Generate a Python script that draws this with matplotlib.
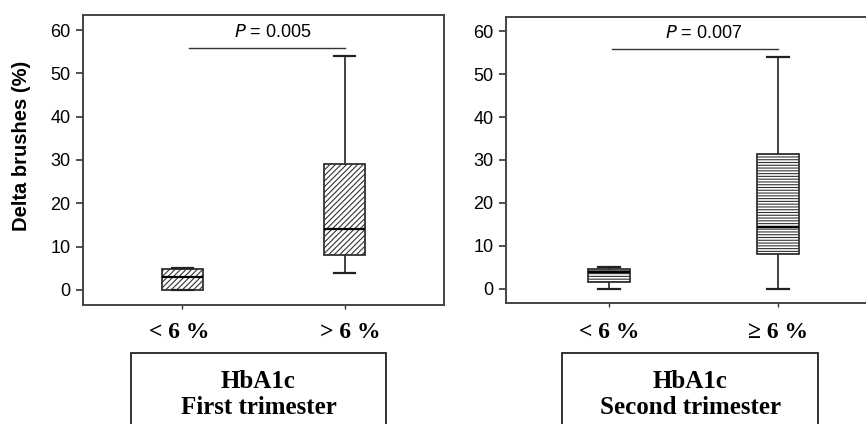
import matplotlib
matplotlib.use("Agg")
import matplotlib.pyplot as plt
from matplotlib.patches import Rectangle

# box statistics: min, q1, median, q3, max
first_low = dict(whislo=0, q1=0, med=3, q3=4.8, whishi=5)
first_high = dict(whislo=4, q1=8, med=14, q3=29, whishi=54)
second_low = dict(whislo=0, q1=1.5, med=4, q3=4.7, whishi=5)
second_high = dict(whislo=0, q1=8, med=14.5, q3=31.5, whishi=54)

first_labels = ["< 6 %", "> 6 %"]
second_labels = ["< 6 %", "\u2265 6 %"]
p_values = ["0.005", "0.007"]
panel_titles = ["First trimester", "Second trimester"]

plt.rcParams["font.family"] = ["Liberation Sans", "DejaVu Sans"]
plt.rcParams["hatch.color"] = "#444444"
plt.rcParams["hatch.linewidth"] = 0.8

W, H = 866, 424
fig = plt.figure(figsize=(W / 100, H / 100), dpi=100)

def px_axes(x0, top, x1, bottom):
    return fig.add_axes([x0 / W, (H - bottom) / H, (x1 - x0) / W, (bottom - top) / H])

ax1 = px_axes(83, 15, 444, 305)
ax2 = px_axes(506, 17, 881, 303)

panels = [
    (ax1, [first_low, first_high], "//////", (-3.5, 63.5), first_labels, p_values[0], 1.04),
    (ax2, [second_low, second_high], "------", (-3.3, 63.3), second_labels, p_values[1], 1.02),
]

for ax, stats, hatch, ylim, labels, p, x_start in panels:
    for s in stats:
        s["fliers"] = []
    bp = ax.bxp(stats, positions=[1, 2], widths=0.25, capwidths=0.13,
                patch_artist=True, showfliers=False,
                boxprops=dict(facecolor="white", edgecolor="#333333", linewidth=1.3),
                medianprops=dict(color="black", linewidth=1.6),
                whiskerprops=dict(color="#333333", linewidth=1.3),
                capprops=dict(color="#222222", linewidth=1.6))
    for b in bp["boxes"]:
        b.set_hatch(hatch)
    ax.set_xlim(0.39, 2.61)
    ax.set_ylim(*ylim)
    ax.set_yticks([0, 10, 20, 30, 40, 50, 60])
    ax.set_xticks([1, 2])
    ax.set_xticklabels(["", ""])
    ax.tick_params(axis="y", length=5, width=1.2, pad=4, labelsize=13, color="#333333")
    ax.tick_params(axis="x", length=3, width=1.0, color="#333333")
    for sp in ax.spines.values():
        sp.set_color("#444444")
        sp.set_linewidth(1.4)
    # significance bracket
    ax.plot([x_start, 2.0], [55.8, 55.8], color="#333333", linewidth=1.0)
    ax.text(1.56, 59.5, "$\\it{P}$ = " + p, ha="center", va="center", fontsize=13)

fig.text(22 / W, 1 - 146 / H, "Delta brushes (%)", rotation=90, ha="center", va="center",
         fontsize=14.5, fontweight="bold")

# group labels below the axes
serif = dict(family=["Liberation Serif", "DejaVu Serif"], fontweight="bold",
             ha="center", va="center")
for x, lab in zip([179, 350], first_labels):
    fig.text(x / W, 1 - 333 / H, lab, fontsize=17, **serif)
for x, lab in zip([609, 778], second_labels):
    fig.text(x / W, 1 - 333 / H, lab, fontsize=17, **serif)

# framed captions
for x0, x1, title in [(131, 386, panel_titles[0]), (562, 818, panel_titles[1])]:
    fig.patches.append(Rectangle((x0 / W, -0.05), (x1 - x0) / W, (H - 353) / H + 0.05,
                                 transform=fig.transFigure, fill=False,
                                 edgecolor="#222222", linewidth=1.3))
    xc = (x0 + x1) / 2 / W
    fig.text(xc, 1 - 381 / H, "HbA1c", fontsize=18, **serif)
    fig.text(xc, 1 - 408 / H, title, fontsize=18, **serif)

fig.savefig("out.png", dpi=100)
